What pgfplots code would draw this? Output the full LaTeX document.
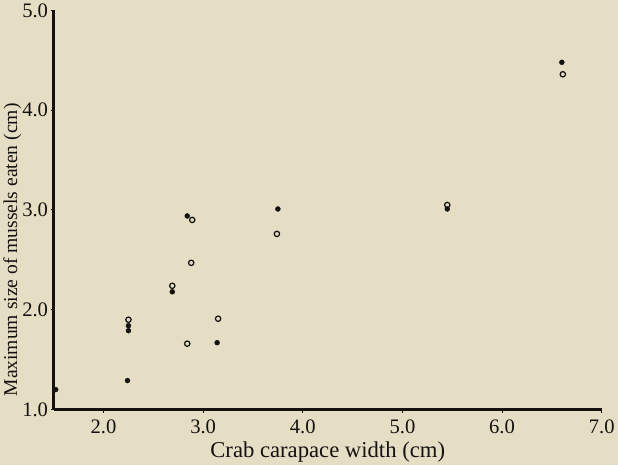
\documentclass[border=0pt]{standalone}
\usepackage{fontspec}
\setmainfont{Liberation Serif}
\usepackage{pgfplots}
\pgfplotsset{compat=1.18}
\definecolor{paper}{RGB}{230,222,196}
\definecolor{ink}{RGB}{20,18,16}
\pagecolor{paper}
\begin{document}
\begin{tikzpicture}
\begin{axis}[
    scale only axis,
    width=530bp, height=386bp,
    xmin=1.5, xmax=7.0,
    ymin=1.0, ymax=5.0,
    axis x line*=bottom, axis y line*=left,
    axis line style={ink, line width=2.8pt, -},
    xtick={2,3,4,5,6,7},
    ytick={1,2,3,4,5},
    xticklabels={2.0,3.0,4.0,5.0,6.0,7.0},
    yticklabels={1.0,2.0,3.0,4.0,5.0},
    tick align=outside, major tick length=3pt,
    tick style={ink, line width=1pt},
    ticklabel style={font=\fontsize{20}{22}\selectfont, text=ink},
    /pgf/number format/assume math mode=true,
    xticklabel style={yshift=-3pt},
    yticklabel style={xshift=1pt},
    xlabel={Crab carapace width (cm)},
    ylabel={Maximum size of mussels eaten (cm)},
    xlabel style={font=\fontsize{22}{24}\selectfont, text=ink, yshift=-1pt},
    ylabel style={font=\fontsize{19}{21}\selectfont, text=ink,
                  at={(ticklabel cs:0.40)}, yshift=-6pt},
    clip=false,
]
  % filled circles
  \addplot[only marks, mark=*, mark size=2.4pt, ink] coordinates {
    (1.52,1.20) (2.24,1.29) (2.25,1.79) (2.25,1.84) (2.69,2.18)
    (2.84,2.94) (3.14,1.67) (3.75,3.01) (5.45,3.01) (6.60,4.48)
  };
  % open circles
  \addplot[only marks, mark=o, mark size=2.6pt, ink, line width=1.2pt] coordinates {
    (2.25,1.90) (2.69,2.24) (2.84,1.66) (2.88,2.47) (2.89,2.90)
    (3.15,1.91) (3.74,2.76) (5.45,3.05) (6.61,4.36)
  };
\end{axis}
\end{tikzpicture}
\end{document}
